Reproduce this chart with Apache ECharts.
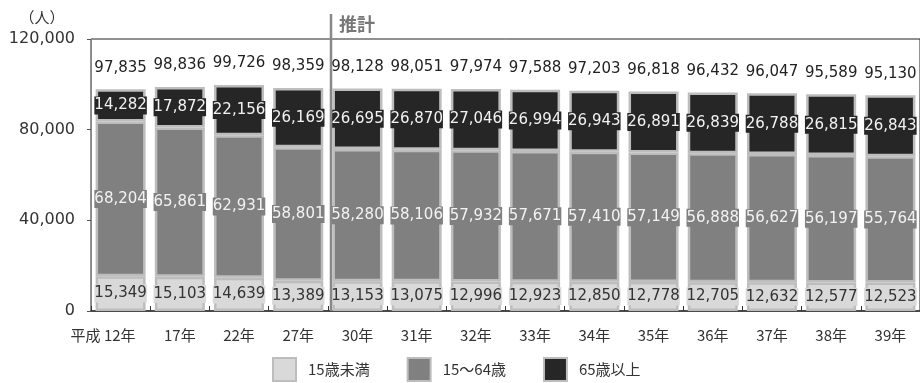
<!DOCTYPE html>
<html>
<head>
<meta charset="utf-8">
<script src="https://cdn.jsdelivr.net/npm/echarts@6/dist/echarts.min.js"></script>
<style>
  html, body { margin: 0; padding: 0; background: #fff; }
  #chart { width: 920px; height: 383px; }
</style>
</head>
<body>
<div id="chart"></div>
<script>
// 年齢3区分別人口の推移と推計
const years = ['12年', '17年', '22年', '27年', '30年', '31年', '32年', '33年', '34年', '35年', '36年', '37年', '38年', '39年'];
const under15 = [15349, 15103, 14639, 13389, 13153, 13075, 12996, 12923, 12850, 12778, 12705, 12632, 12577, 12523];
const age15to64 = [68204, 65861, 62931, 58801, 58280, 58106, 57932, 57671, 57410, 57149, 56888, 56627, 56197, 55764];
const over65 = [14282, 17872, 22156, 26169, 26695, 26870, 27046, 26994, 26943, 26891, 26839, 26788, 26815, 26843];
const yTicks = [0, 40000, 80000, 120000];
const firstEstimate = '30年';

const totals = years.map((_, i) => under15[i] + age15to64[i] + over65[i]);
const fmt = v => v.toLocaleString('en-US');

const NUM_FONT = '"DejaVu Sans", Verdana, sans-serif';
const JP_FONT = '"Noto Sans CJK JP", sans-serif';
const BAR_W = 50;
const BORDER = '#bdbdbd';

function segment(name, data, fill, textColor) {
  return {
    name: name,
    type: 'bar',
    stack: 'pop',
    barWidth: BAR_W,
    data: data,
    itemStyle: { color: fill, borderColor: BORDER, borderWidth: 2.5 },
    label: {
      show: true,
      position: 'inside',
      formatter: p => fmt(p.value),
      fontFamily: NUM_FONT,
      fontSize: 15,
      color: textColor,
      textBorderWidth: 0,
      textBorderColor: 'transparent',
      backgroundColor: fill,
      padding: [2, 0, 1, 0]
    },
    emphasis: { disabled: true }
  };
}

const chart = echarts.init(document.getElementById('chart'));
chart.setOption({
  animation: false,
  backgroundColor: '#fff',
  grid: {
    left: 91, right: -3, top: 39, bottom: 72,
    show: true, borderColor: '#222', borderWidth: 1, backgroundColor: 'transparent'
  },
  legend: {
    left: 267, top: 352,
    icon: 'rect',
    itemWidth: 23, itemHeight: 23,
    itemGap: 37,
    data: ['15歳未満', '15～64歳', '65歳以上'],
    textStyle: { fontFamily: JP_FONT, fontSize: 15, color: '#333', padding: [0, 0, 0, 7] }
  },
  xAxis: {
    type: 'category',
    data: years,
    axisLine: { lineStyle: { color: '#333', width: 1.5 } },
    axisTick: { show: true, inside: true, length: 5, lineStyle: { color: '#333' } },
    axisLabel: {
      interval: 0,
      margin: 17,
      color: '#333',
      fontFamily: JP_FONT,
      fontSize: 15,
      formatter: (v, i) => i === 0 ? '{p|平成 }' + v + '{s|}' : v,
      rich: {
        p: { fontFamily: JP_FONT, fontSize: 15, color: '#333' },
        s: { width: 35 }
      }
    }
  },
  yAxis: {
    type: 'value',
    min: yTicks[0], max: yTicks[yTicks.length - 1], interval: yTicks[1] - yTicks[0],
    splitLine: { show: false },
    axisLine: { show: true, lineStyle: { color: '#888' } },
    axisTick: { show: true, length: 4, lineStyle: { color: '#555' } },
    axisLabel: { margin: 16, color: '#333', fontFamily: NUM_FONT, fontSize: 16, formatter: v => fmt(v) },
    name: '（人）',
    nameLocation: 'end',
    nameGap: 0,
    nameTextStyle: { fontFamily: JP_FONT, fontSize: 15, color: '#333', align: 'center', padding: [0, 98, 14, 0] }
  },
  series: [
    segment('15歳未満', under15, '#d9d9d9', '#333'),
    segment('15～64歳', age15to64, '#808080', '#f2f2f2'),
    segment('65歳以上', over65, '#262626', '#f2f2f2'),
    {
      name: 'total',
      type: 'bar',
      stack: 'pop',
      barWidth: BAR_W,
      data: years.map(() => 0),
      itemStyle: { color: 'transparent', borderWidth: 0 },
      label: {
        show: true,
        position: 'top',
        distance: 14,
        formatter: p => fmt(totals[p.dataIndex]),
        fontFamily: NUM_FONT,
        fontSize: 15,
        color: '#222'
      },
      emphasis: { disabled: true }
    }
  ]
});

// 推計区分の仕切り線（推計初年の棒の左端）
const cx = chart.convertToPixel({ xAxisIndex: 0 }, firstEstimate);
const baseY = chart.convertToPixel({ yAxisIndex: 0 }, 0);
const lineX = Math.round(cx - BAR_W / 2 - 1);
chart.setOption({
  graphic: [
    {
      type: 'line',
      shape: { x1: lineX, y1: 14, x2: lineX, y2: baseY },
      style: { stroke: '#888', lineWidth: 2.5 },
      z: 10
    },
    {
      type: 'text',
      left: lineX + 8,
      top: 15,
      style: { text: '推計', fill: '#777', font: 'bold 18px "Noto Sans CJK JP", sans-serif' },
      z: 10
    }
  ]
});
</script>
</body>
</html>
